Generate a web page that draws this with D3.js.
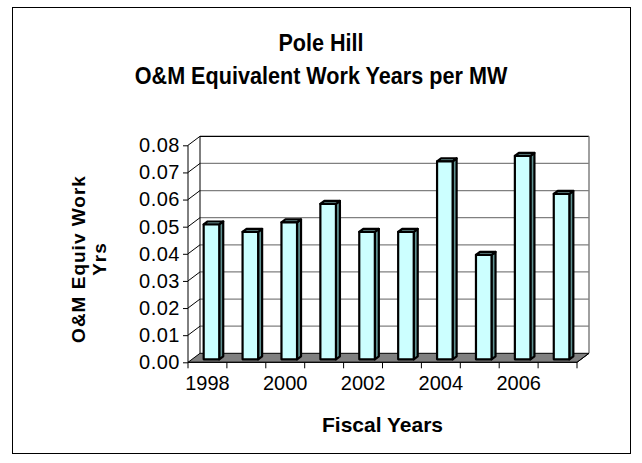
<!DOCTYPE html>
<html>
<head>
<meta charset="utf-8">
<script src="https://cdn.jsdelivr.net/npm/d3@7"></script>
<style>
  html, body { margin: 0; padding: 0; background: #fff; }
  svg { display: block; }
  text { font-family: Arial, "Liberation Sans", sans-serif; fill: #000; }
</style>
</head>
<body>
<div id="chart"></div>
<script>
// ---- data ----
const years = ["1998","1999","2000","2001","2002","2003","2004","2005","2006","2007"];
const values = [0.0497, 0.0470, 0.0505, 0.0573, 0.0470, 0.0470, 0.0730, 0.0385, 0.0750, 0.0610];
const yTicks = [0, 0.01, 0.02, 0.03, 0.04, 0.05, 0.06, 0.07, 0.08];
const xLabelYears = ["1998","2000","2002","2004","2006"];
const titleLines = ["Pole Hill", "O&M Equivalent Work Years per MW"];
const yTitleLines = ["O&M Equiv Work", "Yrs"];
const xTitle = "Fiscal Years";

const W = 642, H = 463;
const svg = d3.select("#chart").append("svg").attr("width", W).attr("height", H);

// frame
svg.append("rect").attr("x", 12.5).attr("y", 7.5).attr("width", 618).attr("height", 446)
  .attr("fill", "#fff").attr("stroke", "#000").attr("stroke-width", 1);

// scales
const x0 = 188, x1 = 577;
const x = d3.scaleBand().domain(years).range([x0, x1]).paddingInner(0.6).paddingOuter(0.3);
const y = d3.scaleLinear().domain([0, 0.08]).range([362.3, 145.3]);
const step = (x1 - x0) / years.length;
const DX = 12, DY = -9;           // full depth
const bF = 1/3, bB = 2/3;          // bar depth fractions

const yMax = y(0.08), y0 = y(0);

// back wall
svg.append("rect").attr("x", x0 + DX).attr("y", yMax + DY).attr("width", x1 - x0).attr("height", y0 - yMax)
  .attr("fill", "#fff").attr("stroke", "none");
// side wall
svg.append("polygon")
  .attr("points", [[x0, y0], [x0, yMax], [x0 + DX, yMax + DY], [x0 + DX, y0 + DY]].map(p => p.join(",")).join(" "))
  .attr("fill", "#fff").attr("stroke", "none");

// gridlines on back wall
svg.append("g").selectAll("line").data(yTicks.slice(1)).join("line")
  .attr("x1", x0 + DX).attr("x2", x1 + DX)
  .attr("y1", d => y(d) + DY).attr("y2", d => y(d) + DY)
  .attr("stroke", d => d === 0.08 ? "#000" : "#808080").attr("stroke-width", 1.2);
// gridlines on side wall
svg.append("g").selectAll("line").data(yTicks.slice(1)).join("line")
  .attr("x1", x0).attr("x2", x0 + DX)
  .attr("y1", d => y(d)).attr("y2", d => y(d) + DY)
  .attr("stroke", "#000").attr("stroke-width", 1);
// back wall edges
svg.append("line").attr("x1", x0 + DX).attr("x2", x0 + DX).attr("y1", yMax + DY).attr("y2", y0 + DY)
  .attr("stroke", "#000").attr("stroke-width", 1);
svg.append("line").attr("x1", x1 + DX).attr("x2", x1 + DX).attr("y1", yMax + DY).attr("y2", y0 + DY)
  .attr("stroke", "#808080").attr("stroke-width", 1.5);

// floor
svg.append("polygon")
  .attr("points", [[x0, y0], [x1, y0], [x1 + DX, y0 + DY], [x0 + DX, y0 + DY]].map(p => p.join(",")).join(" "))
  .attr("fill", "#808080").attr("stroke", "#000").attr("stroke-width", 1);

// bars
const bw = x.bandwidth();
const bdx = DX * (bB - bF), bdy = DY * (bB - bF);
const bars = svg.append("g").selectAll("g").data(years.map((yr, i) => ({yr, v: values[i]}))).join("g")
  .attr("transform", `translate(${DX * bF},${DY * bF})`);
bars.append("polygon") // side
  .attr("points", d => {
    const r = x(d.yr) + bw, t = y(d.v);
    return [[r, y0], [r, t], [r + bdx, t + bdy], [r + bdx, y0 + bdy]].map(p => p.join(",")).join(" ");
  })
  .attr("fill", "#5f9191").attr("stroke", "#000").attr("stroke-width", 2.2).attr("stroke-linejoin", "round");
bars.append("polygon") // top
  .attr("points", d => {
    const l = x(d.yr), r = l + bw, t = y(d.v);
    return [[l, t], [r, t], [r + bdx, t + bdy], [l + bdx, t + bdy]].map(p => p.join(",")).join(" ");
  })
  .attr("fill", "#8fc4c4").attr("stroke", "#000").attr("stroke-width", 2.2).attr("stroke-linejoin", "round");
bars.append("rect") // front
  .attr("x", d => x(d.yr)).attr("y", d => y(d.v)).attr("width", bw).attr("height", d => y0 - y(d.v))
  .attr("fill", "#ccffff").attr("stroke", "#000").attr("stroke-width", 2.2).attr("stroke-linejoin", "round");

// y axis
svg.append("line").attr("x1", x0).attr("x2", x0).attr("y1", yMax).attr("y2", y0)
  .attr("stroke", "#000").attr("stroke-width", 1);
const yAxis = d3.axisLeft(y).tickValues(yTicks).tickSize(5).tickPadding(3).tickFormat(d3.format(".2f"));
const ya = svg.append("g").attr("transform", `translate(${x0},0)`).call(yAxis);
ya.select(".domain").remove();
ya.selectAll("line").attr("stroke", "#000");
ya.selectAll("text").attr("font-size", 20).attr("font-family", "Arial, 'Liberation Sans', sans-serif")
  .attr("letter-spacing", 0.5).attr("fill", "#000");

// x axis
svg.append("line").attr("x1", x0).attr("x2", x1).attr("y1", y0).attr("y2", y0).attr("stroke", "#000");
svg.append("line").attr("x1", x1).attr("x2", x1 + DX).attr("y1", y0).attr("y2", y0 + DY).attr("stroke", "#000");
const boundaries = d3.range(years.length + 1).map(i => x0 + i * step);
svg.append("g").selectAll("line").data(boundaries).join("line")
  .attr("x1", d => d).attr("x2", d => d).attr("y1", y0).attr("y2", y0 + 6).attr("stroke", "#000");
svg.append("g").selectAll("text").data(xLabelYears).join("text")
  .attr("x", d => x(d) + bw / 2).attr("y", 390)
  .attr("text-anchor", "middle").attr("font-size", 20).text(d => d);

// titles
svg.append("g").selectAll("text").data(titleLines).join("text")
  .attr("transform", (d, i) => `translate(321,${51 + i * 33.3}) scale(0.92,1)`)
  .attr("text-anchor", "middle").attr("font-size", 23.5).attr("font-weight", "bold").text(d => d);

svg.append("text").attr("x", 382.5).attr("y", 432).attr("text-anchor", "middle")
  .attr("font-size", 21).attr("font-weight", "bold").text(xTitle);

svg.append("g").selectAll("text").data(yTitleLines).join("text")
  .attr("transform", (d, i) => `translate(${85 + i * 21},259) rotate(-90)`)
  .attr("text-anchor", "middle").attr("font-size", 19).attr("font-weight", "bold")
  .attr("letter-spacing", 1).text(d => d);
</script>
</body>
</html>
